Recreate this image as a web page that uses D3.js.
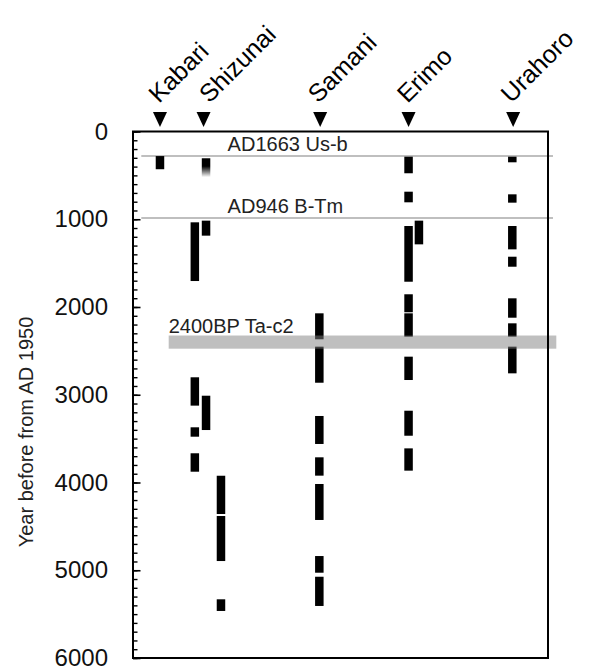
<!DOCTYPE html>
<html>
<head>
<meta charset="utf-8">
<script src="https://cdn.jsdelivr.net/npm/d3@7"></script>
<style>
  body { margin: 0; background: #fff; }
  text { font-family: "Liberation Sans", Arial, sans-serif; fill: #000; }
</style>
</head>
<body>
<script>
//-----------------Data----------------

const sites = ["Kabari", "Shizunai", "Samani", "Erimo", "Urahoro"];
const sitePos = [6.5, 17, 45.1, 66.4, 91.6];

// [lane, from (yr BP), to (yr BP)]
const kabariBars = [[6.5, 280, 430]];
const shizunaiFaded = [[17.6, 305, 520]];
const shizunaiBars = [
  [14.9, 1035, 1704], [14.9, 2801, 3124], [14.9, 3371, 3478], [14.9, 3667, 3877],
  [17.6, 1016, 1187], [17.6, 3011, 3402],
  [21.2, 3923, 4359], [21.2, 4382, 4895], [21.2, 5331, 5464]
];
const samaniBars = [
  [44.9, 2072, 2368], [44.9, 2452, 2863], [44.9, 3242, 3561], [44.9, 3713, 3922],
  [44.9, 4017, 4427], [44.9, 4838, 5028], [44.9, 5074, 5407]
];
const erimoBars = [
  [66.4, 287, 476], [66.4, 686, 807], [66.4, 1077, 1712], [66.4, 1855, 2060],
  [66.4, 2072, 2338], [66.4, 2566, 2832], [66.4, 3182, 3467], [66.4, 3611, 3865],
  [68.9, 1016, 1286]
];
const urahoroBars = [
  [91.4, 287, 351], [91.4, 716, 811], [91.4, 1077, 1343], [91.4, 1427, 1541],
  [91.4, 1901, 2122], [91.4, 2186, 2338], [91.4, 2452, 2756]
];

const tephraNames = ["AD1663 Us-b", "AD946 B-Tm"];
const tephraAges = [278, 985];
const bandName = "2400BP Ta-c2";
const bandAges = [2325, 2475];

const yTicks = [0, 1000, 2000, 3000, 4000, 5000, 6000];

//-----------------Svg----------------

const width = 603;
const height = 670;

const svg = d3.select("body").append("svg").attr("width", width).attr("height", height);

const x = d3.scaleLinear().domain([0, 100]).range([133, 548]);
const y = d3.scaleLinear().domain([0, 6000]).range([131.5, 658]);

const barW = 8.5;
// label nudges (px) for the rotated site names
const labelDx = [-1, 6, -2, -1, -2];

const defs = svg.append("defs");
const grad = defs.append("linearGradient").attr("id", "fade").attr("x1", 0).attr("y1", 0).attr("x2", 0).attr("y2", 1);
grad.append("stop").attr("offset", "0%").attr("stop-color", "#000");
grad.append("stop").attr("offset", "42%").attr("stop-color", "#000");
grad.append("stop").attr("offset", "100%").attr("stop-color", "#000").attr("stop-opacity", 0);

//-----------------Axis----------------

const minorAxis = d3.axisLeft(y).tickValues(d3.range(0, 6001, 100)).tickSize(-4.5).tickFormat("");
svg.append("g").attr("transform", "translate(" + x(0) + ",0)").call(minorAxis)
  .call(g => g.select(".domain").remove())
  .call(g => g.selectAll("line").attr("stroke-width", 1.4));

const yAxis = d3.axisLeft(y).tickValues(yTicks).tickSize(-7.5).tickPadding(25).tickFormat(d3.format("d"));
svg.append("g").attr("id", "y-axis").attr("transform", "translate(" + x(0) + ",0)").call(yAxis)
  .call(g => g.select(".domain").remove())
  .call(g => g.selectAll("line").attr("stroke-width", 1.6))
  .call(g => g.selectAll("text").style("font-size", "24px").attr("font-family", null).style("fill", "#111"));

svg.append("text")
  .text("Year before from AD 1950")
  .attr("transform", "translate(33," + 432 + ") rotate(-90)")
  .style("text-anchor", "middle")
  .style("font-size", "20px")
  .style("fill", "#222");

//-----------------Tephra lines----------------

svg.selectAll(".tephra")
  .data(tephraAges)
  .enter()
  .append("line")
  .attr("class", "tephra")
  .attr("x1", x(2))
  .attr("x2", x(101.2))
  .attr("y1", (d) => y(d))
  .attr("y2", (d) => y(d))
  .attr("stroke", "#bfbfbf")
  .attr("stroke-width", 2);

svg.selectAll(".tephra-label")
  .data(tephraAges)
  .enter()
  .append("text")
  .attr("class", "tephra-label")
  .attr("x", x(22.8))
  .attr("y", (d) => y(d) - 4.5)
  .text((d, i) => tephraNames[i])
  .style("font-size", "20px")
  .style("fill", "#222");

//-----------------Bars----------------

const allBars = [].concat(kabariBars, shizunaiBars, samaniBars, erimoBars, urahoroBars);

svg.selectAll(".bar")
  .data(allBars)
  .enter()
  .append("rect")
  .attr("class", "bar")
  .attr("x", (d) => x(d[0]) - barW / 2)
  .attr("width", barW)
  .attr("y", (d) => y(d[1]))
  .attr("height", (d) => y(d[2]) - y(d[1]))
  .style("fill", "#000");

svg.selectAll(".faded")
  .data(shizunaiFaded)
  .enter()
  .append("rect")
  .attr("class", "faded")
  .attr("x", (d) => x(d[0]) - barW / 2)
  .attr("width", barW)
  .attr("y", (d) => y(d[1]))
  .attr("height", (d) => y(d[2]) - y(d[1]))
  .style("fill", "url(#fade)");

//-----------------Ta-c2 band----------------

svg.append("rect")
  .attr("x", x(8.6))
  .attr("width", x(102) - x(8.6))
  .attr("y", y(bandAges[0]))
  .attr("height", y(bandAges[1]) - y(bandAges[0]))
  .style("fill", "#808080")
  .style("opacity", 0.5);

svg.append("text")
  .attr("x", x(8.6))
  .attr("y", y(bandAges[0]) - 3)
  .text(bandName)
  .style("font-size", "20px")
  .style("fill", "#222");

//-----------------Frame----------------

svg.append("rect")
  .attr("x", x(0))
  .attr("y", y(0))
  .attr("width", x(100) - x(0))
  .attr("height", y(6000) - y(0))
  .style("fill", "none")
  .style("stroke", "#000")
  .style("stroke-width", 2);

//-----------------Sites----------------

svg.selectAll(".marker")
  .data(sitePos)
  .enter()
  .append("path")
  .attr("class", "marker")
  .attr("d", (d) => {
    const cx = x(d);
    return "M" + (cx - 7) + ",112L" + (cx + 7) + ",112L" + cx + ",127Z";
  })
  .style("fill", "#000");

svg.selectAll(".site")
  .data(sitePos)
  .enter()
  .append("text")
  .attr("class", "site")
  .attr("transform", (d, i) => "translate(" + (x(d) + labelDx[i]) + ",104) rotate(-45)")
  .text((d, i) => sites[i])
  .style("font-size", "25px");
</script>
</body>
</html>
